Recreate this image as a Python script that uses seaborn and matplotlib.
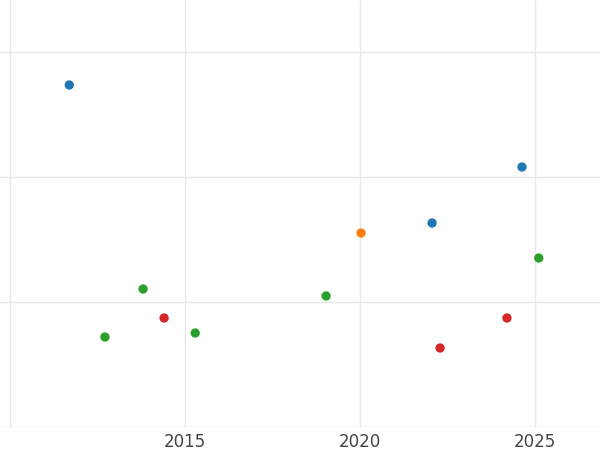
import matplotlib
matplotlib.use("Agg")
import matplotlib.pyplot as plt
import seaborn as sns
import pandas as pd

groups = ["A"]*3 + ["B"] + ["C"]*5 + ["D"]*3
xs = [2011.69, 2024.63, 2022.06, 2020.03, 2013.8, 2012.71, 2015.29, 2019.03, 2025.11, 2014.4, 2022.29, 2024.2]
ys = [2.736, 2.08, 1.632, 1.552, 1.104, 0.72, 0.752, 1.048, 1.352, 0.872, 0.632, 0.872]
df = pd.DataFrame({"x": xs, "y": ys, "g": groups})

sns.set_theme(style="whitegrid")
fig = plt.figure(figsize=(6, 4.5), dpi=100)
ax = fig.add_axes([0, 23/450, 1, 427/450])
sns.scatterplot(data=df, x="x", y="y", hue="g", palette=["#1f77b4", "#ff7f0e", "#2ca02c", "#d62728"],
                s=45, edgecolor="none", legend=False, ax=ax)
ax.set_xlim(2009.71, 2026.86)
ax.set_ylim(0, 3.416)
ax.set_xticks([2010, 2015, 2020, 2025])
ax.set_xticklabels(["", "2015", "2020", "2025"])
ax.set_yticks([0, 1, 2, 3])
ax.set_yticklabels([])
ax.tick_params(axis="x", labelsize=12, labelcolor="#444444", length=0, pad=4)
ax.tick_params(axis="y", length=0)
ax.grid(color="#e8e8e8", linewidth=1)
ax.set_xlabel("")
ax.set_ylabel("")
for s in ax.spines.values():
    s.set_visible(False)
fig.savefig("out.png", dpi=100)
